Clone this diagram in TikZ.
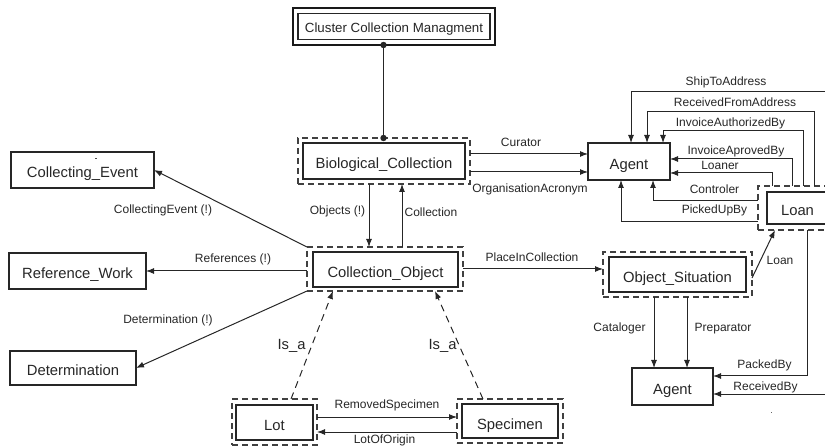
\documentclass[tikz,border=0pt]{standalone}
\usepackage{fontspec}
\setmainfont{Liberation Sans}
\usetikzlibrary{arrows.meta}
\begin{document}
\begin{tikzpicture}[x=1pt,y=-1pt,
  every node/.style={inner sep=0pt, outer sep=0pt},
  box/.style={draw=black!85, line width=1.3pt, text=black!85,
    font=\fontsize{14.8}{17}\selectfont, text height=16pt, text depth=0pt},
  dbox/.style={draw=black!75, line width=1.2pt, dash pattern=on 6pt off 4pt},
  lbl/.style={text=black!85, font=\fontsize{12}{14}\selectfont, anchor=base},
  isalbl/.style={text=black!85, font=\fontsize{14.8}{17}\selectfont, anchor=base},
  arr/.style={draw=black!85, line width=1pt, -{Latex[length=8pt,width=6pt]}},
  isa/.style={arr, dash pattern=on 7pt off 5pt}]
\useasboundingbox (0,0) rectangle (825,446);
\clip (0,0) rectangle (825,446);

% boxes
\node[box, minimum width=192pt, minimum height=26pt, font=\fontsize{13.3}{16}\selectfont, text height=13pt] (cl) at (394,26.5) {Cluster Collection Managment};
\node[draw=black!90, line width=1.8pt, minimum width=202pt, minimum height=37pt] (clo) at (394,26.5) {};

\node[box, minimum width=162pt, minimum height=36pt] (bc) at (384,161) {Biological\_Collection};
\node[dbox, minimum width=172pt, minimum height=46pt] (bco) at (384,161) {};

\node[box, minimum width=145pt, minimum height=35pt] (co) at (385.5,269.5) {Collection\_Object};
\node[dbox, minimum width=156pt, minimum height=44pt] (coo) at (385,269) {};

\node[box, minimum width=137pt, minimum height=35pt] (os) at (677.5,274.5) {Object\_Situation};
\node[dbox, minimum width=149pt, minimum height=45pt] (oso) at (677.5,274.5) {};

\node[box, minimum width=61pt, minimum height=32pt] (loan) at (797.5,208) {Loan};
\node[dbox, minimum width=79pt, minimum height=44pt] (loano) at (797.5,208) {};

\node[box, minimum width=82pt, minimum height=37pt] (ag1) at (629,161.5) {Agent};
\node[box, minimum width=81pt, minimum height=37pt] (ag2) at (672.5,386.5) {Agent};

\node[box, minimum width=143pt, minimum height=36pt] (ce) at (82.5,170) {Collecting\_Event};
\node[box, minimum width=137pt, minimum height=36pt] (rw) at (77.5,271) {Reference\_Work};
\node[box, minimum width=126pt, minimum height=34pt] (det) at (73,368) {Determination};

\node[box, minimum width=77pt, minimum height=35pt] (lot) at (274.5,422.5) {Lot};
\node[dbox, minimum width=85pt, minimum height=46pt] (loto) at (274.5,422) {};

\node[box, minimum width=96pt, minimum height=34pt] (spec) at (510,421) {Specimen};
\node[dbox, minimum width=106pt, minimum height=44pt] (speco) at (510,421) {};

% specks
\fill[black!70] (95,158) rectangle (97,159.5);
\fill[black!60] (770.5,411.5) rectangle (771.8,412.8);

% cluster link
\draw[black!85, line width=1pt] (clo.south -| 383.5,0) -- (bco.north -| 383.5,0);
\fill[black!85] (clo.south -| 383.5,0) circle (3.2pt);
\fill[black!85] (bco.north -| 383.5,0) circle (3.2pt);

% connectors
\draw[arr] (bco.east |- 0,154) -- (ag1.west |- 0,154);
\draw[arr] (bco.east |- 0,172) -- (ag1.west |- 0,172);
\draw[arr] (bco.south -| 369,0) -- (coo.north -| 369,0);
\draw[arr] (coo.north -| 402,0) -- (bco.south -| 402,0);
\draw[arr] (coo.north west) -- (ce.east);
\draw[arr] (coo.west |- rw.east) -- (rw.east);
\draw[arr] (coo.south west) -- (det.east);
\draw[arr] (coo.east) -- (oso.west |- coo.east);
\draw[arr] (oso.east |- 0,278) -- (loano.south -| 775,0);
\draw[arr] (oso.south -| 654,0) -- (ag2.north -| 654,0);
\draw[arr] (oso.south -| 687,0) -- (ag2.north -| 687,0);
\draw[arr] (loano.south -| 807,0) |- (ag2.east |- 0,376);
\draw[arr] (loano.south -| 831,0) |- (ag2.east |- 0,394);
\draw[arr] (loano.north -| 830,0) -- (830,92) -| (ag1.north -| 631,0);
\draw[arr] (loano.north -| 814,0) -- (814,112) -| (ag1.north -| 647,0);
\draw[arr] (loano.north -| 803,0) -- (803,131) -| (ag1.north -| 663,0);
\draw[arr] (loano.north -| 792,0) |- (ag1.east |- 0,159);
\draw[arr] (loano.north -| 772,0) |- (ag1.east |- 0,173);
\draw[arr] (loano.west |- 0,201) -| (ag1.south -| 653,0);
\draw[arr] (loano.west |- 0,222) -| (ag1.south -| 621,0);
\draw[arr] (loto.east |- 0,417) -- (speco.west |- 0,417);
\draw[arr] (speco.west |- 0,432) -- (loto.east |- 0,432);
\draw[isa] (loto.north -| 291,0) -- (coo.south -| 333,0);
\draw[isa] (speco.north -| 483,0) -- (coo.south -| 435,0);

% labels
\node[lbl] (l1) at (521,146.3) {Curator};
\node[lbl] (l2) at (530,192.3) {OrganisationAcronym};
\node[lbl] (l3) at (337.5,214.3) {Objects (!)};
\node[lbl] (l4) at (431,216.3) {Collection};
\node[lbl] (l5) at (163,213.5) {CollectingEvent (!)};
\node[lbl] (l6) at (233,262.3) {References (!)};
\node[lbl] (l7) at (168,324) {Determination (!)};
\node[lbl] (l8) at (532,261.3) {PlaceInCollection};
\node[lbl] (l9) at (780,264.3) {Loan};
\node[lbl] (l10) at (619.5,331.5) {Cataloger};
\node[lbl] (l11) at (723,331.5) {Preparator};
\node[lbl] (l12) at (764.5,368.5) {PackedBy};
\node[lbl] (l13) at (765.5,390.5) {ReceivedBy};
\node[lbl] (l14) at (726,86) {ShipToAddress};
\node[lbl] (l15) at (735,106.5) {ReceivedFromAddress};
\node[lbl] (l16) at (730.5,127) {InvoiceAuthorizedBy};
\node[lbl] (l17) at (736,155) {InvoiceAprovedBy};
\node[lbl] (l18) at (720,170) {Loaner};
\node[lbl] (l19) at (714.5,194) {Controler};
\node[lbl] (l20) at (714.5,214) {PickedUpBy};
\node[lbl] (l21) at (387,408) {RemovedSpecimen};
\node[lbl] (l22) at (384.5,443) {LotOfOrigin};
\node[isalbl] (l23) at (291.5,350) {Is\_a};
\node[isalbl] (l24) at (442.5,350) {Is\_a};
\end{tikzpicture}
\end{document}
